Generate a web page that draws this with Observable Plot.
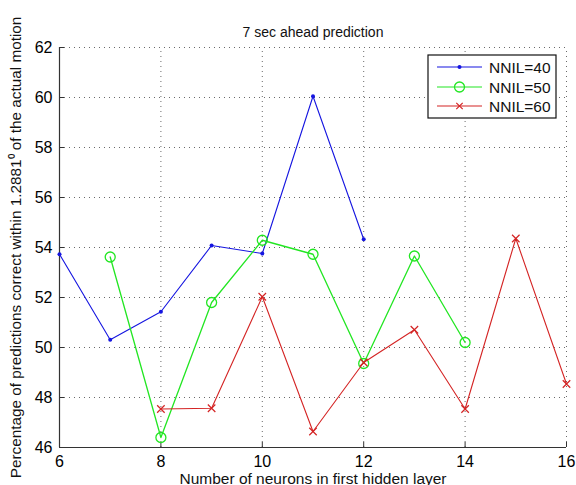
<!DOCTYPE html>
<html>
<head>
<meta charset="utf-8">
<script src="https://cdn.jsdelivr.net/npm/d3@7"></script>
<script src="https://cdn.jsdelivr.net/npm/@observablehq/plot@0.6"></script>
<style>
  html, body { margin: 0; padding: 0; background: #fff; }
  #chart svg { font-family: "Liberation Sans", Arial, sans-serif; }
</style>
</head>
<body>
<div id="chart"></div>
<script>
const title = "7 sec ahead prediction";
const xLabel = "Number of neurons in first hidden layer";
const yLabel = "Percentage of predictions correct within 1.2881\u2070 of the actual motion";
const xTicks = [6, 8, 10, 12, 14, 16];
const yTicks = [46, 48, 50, 52, 54, 56, 58, 60, 62];
const seriesNames = ["NNIL=40", "NNIL=50", "NNIL=60"];
const seriesColors = ["#1515e0", "#22e622", "#d42424"];

const x40 = [6, 7, 8, 9, 10, 11, 12];
const y40 = [53.73, 50.31, 51.43, 54.08, 53.76, 60.05, 54.33];
const x50 = [7, 8, 9, 10, 11, 12, 13, 14];
const y50 = [53.62, 46.40, 51.80, 54.29, 53.73, 49.36, 53.66, 50.20];
const x60 = [8, 9, 10, 11, 12, 13, 14, 15, 16];
const y60 = [47.54, 47.57, 52.03, 46.64, 49.40, 50.71, 47.54, 54.36, 48.54];

const d40 = x40.map((x, i) => ({x, y: y40[i]}));
const d50 = x50.map((x, i) => ({x, y: y50[i]}));
const d60 = x60.map((x, i) => ({x, y: y60[i]}));

const W = 576, H = 485;
const mL = 59, mR = 10, mT = 47, mB = 38;
const tickLenX = 5 * (16 - 6) / (W - mL - mR);
const tickLenY = 5 * (62 - 46) / (H - mT - mB);
const dotted = {stroke: "#444", strokeWidth: 0.8, strokeDasharray: "1,4"};

const chart = Plot.plot({
  width: W,
  height: H,
  marginLeft: mL,
  marginRight: mR,
  marginTop: mT,
  marginBottom: mB,
  style: {fontSize: "16px", fontFamily: "'Liberation Sans', Arial, sans-serif", color: "#000", background: "#fff"},
  x: {domain: [6, 16], ticks: xTicks, tickSize: 0, tickPadding: 8, label: null},
  y: {domain: [46, 62], ticks: yTicks, tickSize: 0, tickPadding: 7, label: null},
  marks: [
    Plot.ruleX(xTicks, {x: d => d, y1: 46, y2: 62, ...dotted}),
    Plot.ruleY(yTicks, {y: d => d, x1: 6, x2: 16, ...dotted}),
    Plot.ruleX(xTicks, {x: d => d, y1: 46, y2: 46 + tickLenY, stroke: "#333", strokeWidth: 1}),
    Plot.ruleY(yTicks, {y: d => d, x1: 6, x2: 6 + tickLenX, stroke: "#333", strokeWidth: 1}),
    Plot.ruleX([6], {y1: 46, y2: 62, stroke: "#333", strokeWidth: 1.2}),
    Plot.ruleY([46], {x1: 6, x2: 16, stroke: "#333", strokeWidth: 1.2}),
    Plot.line(d40, {x: "x", y: "y", stroke: seriesColors[0], strokeWidth: 1.1}),
    Plot.dot(d40, {x: "x", y: "y", r: 2, fill: seriesColors[0], stroke: "none"}),
    Plot.line(d50, {x: "x", y: "y", stroke: seriesColors[1], strokeWidth: 1.3}),
    Plot.dot(d50, {x: "x", y: "y", r: 5, stroke: seriesColors[1], strokeWidth: 1.3, fill: "none"}),
    Plot.line(d60, {x: "x", y: "y", stroke: seriesColors[2], strokeWidth: 1.1}),
    Plot.dot(d60, {x: "x", y: "y", r: 3.5, symbol: "times", stroke: seriesColors[2], strokeWidth: 1.2}),
    Plot.text([title], {frameAnchor: "top", lineAnchor: "bottom", dy: -11, fontSize: 14, fill: "#111"}),
    Plot.text([xLabel], {frameAnchor: "bottom", lineAnchor: "bottom", dy: 36, fontSize: 15.5, fill: "#111"}),
    Plot.text([yLabel], {frameAnchor: "left", textAnchor: "middle", rotate: -90, lineAnchor: "top", dx: -49, fontSize: 15.3, fill: "#111"})
  ]
});

document.getElementById("chart").appendChild(chart);

// Legend (MATLAB-style box inside the plot)
const svg = d3.select(chart);
const lx = 428, ly = 55, lw = 128, lh = 63;
const g = svg.append("g").attr("class", "legend").attr("text-anchor", "start");
g.append("rect").attr("x", lx).attr("y", ly).attr("width", lw).attr("height", lh)
  .attr("fill", "#fff").attr("stroke", "#111").attr("stroke-width", 1.2);
const rowsY = [67, 87, 106];
seriesNames.forEach((name, i) => {
  const yy = rowsY[i];
  g.append("line").attr("x1", 437).attr("x2", 482).attr("y1", yy).attr("y2", yy)
    .attr("stroke", seriesColors[i]).attr("stroke-width", 1.1);
  const cx = 459.5;
  if (i === 0) {
    g.append("circle").attr("cx", cx).attr("cy", yy).attr("r", 2).attr("fill", seriesColors[i]);
  } else if (i === 1) {
    g.append("circle").attr("cx", cx).attr("cy", yy).attr("r", 5).attr("fill", "none")
      .attr("stroke", seriesColors[i]).attr("stroke-width", 1.3);
  } else {
    const s = 3.2;
    g.append("path").attr("d", `M${cx - s},${yy - s}L${cx + s},${yy + s}M${cx - s},${yy + s}L${cx + s},${yy - s}`)
      .attr("stroke", seriesColors[i]).attr("stroke-width", 1.2);
  }
  g.append("text").attr("x", 489).attr("y", yy).attr("dy", "0.36em").attr("text-anchor", "start")
    .attr("font-size", 15.5).attr("fill", "#111").text(name);
});
</script>
</body>
</html>
